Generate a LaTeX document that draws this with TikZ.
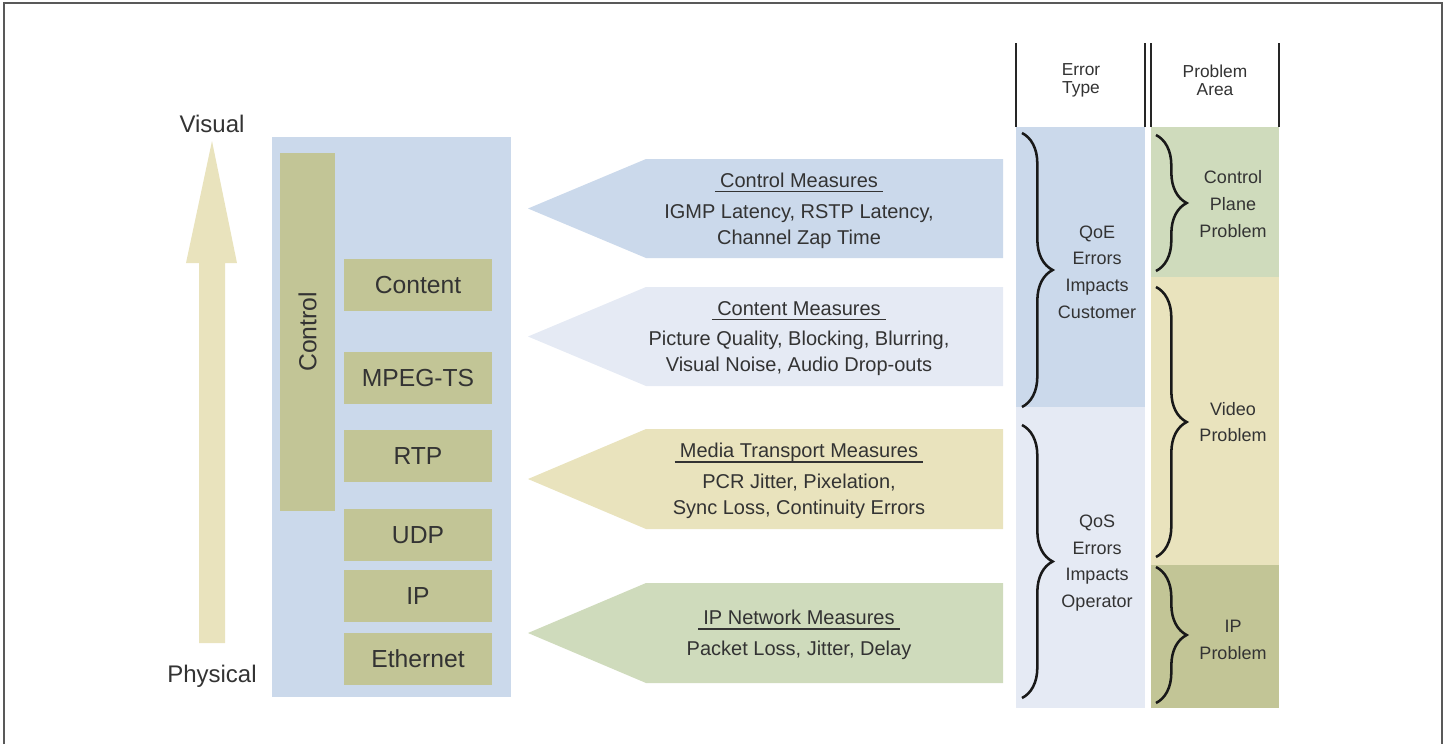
\documentclass[tikz,border=0pt]{standalone}
\usepackage{fontspec}
\setsansfont{Liberation Sans}
\usetikzlibrary{decorations.pathreplacing}

\definecolor{ink}{HTML}{333333}
\definecolor{stackblue}{HTML}{CBD9EB}
\definecolor{paleblue}{HTML}{E5EAF4}
\definecolor{layerolive}{HTML}{C2C596}
\definecolor{straw}{HTML}{E9E3BD}
\definecolor{sage}{HTML}{CFDBBC}

% heading of a measures arrow, ruled a little past both ends
\newsavebox\measurebox
\newcommand\measurehead[1]{\sbox\measurebox{\kern4pt#1\kern4pt}%
  \rlap{\rule[-3.5pt]{\wd\measurebox}{0.9pt}}\usebox\measurebox}

\begin{document}
\begin{tikzpicture}[
  x=0.75pt, y=-0.75pt,
  every node/.append style={font=\sffamily, text=ink},
  frame/.style={draw=black!65, line width=1.4pt},
  layerbox/.style={fill=layerolive, inner sep=0pt, minimum width=111pt,
    minimum height=39pt, font=\sffamily\fontsize{18.5}{22}\selectfont},
  scalelabel/.style={font=\sffamily\fontsize{18}{22}\selectfont},
  measure/.style={align=center, font=\sffamily\fontsize{15}{19.5}\selectfont},
  colhead/.style={align=center, font=\sffamily\fontsize{13}{13.5}\selectfont},
  rule/.style={draw=black!85, line width=1.3pt},
  verdict/.style={align=center, font=\sffamily\fontsize{13.5}{20}\selectfont},
  bracebar/.style={draw=black!90, line width=1.9pt, decorate,
    decoration={brace, amplitude=23pt, aspect=0.5}},
]
\useasboundingbox (0,0) rectangle (1447,744);

\draw[frame] (4,744) -- (4,3) -- (1442,3) -- (1442,744);

% ------------------------------------------------------ the scale arrow
\fill[straw] (199,643) -- (199,263) -- (186,263) -- (212,141)
  -- (237,263) -- (225,263) -- (225,643) -- cycle;
\node[scalelabel] (visual) at (212,124) {Visual};
\node[scalelabel] (physical) at (212,676) {Physical};

% ------------------------------------------------------ protocol stack
\fill[stackblue] (272,137) rectangle (511,697);
\node[layerbox, rotate=90, minimum width=268.5pt, minimum height=41.25pt]
  (control) at (307.5,332) {Control};
\foreach \y/\n/\txt in {284.5/content/Content, 378/mpegts/MPEG-TS,
    456/rtp/RTP, 535/udp/UDP, 596/ip/IP, 659/ethernet/Ethernet}
  \node[layerbox] (\n) at (418,\y) {\txt};

% ------------------------------------------------------ the measures
% Each arrow is a flat body with its point towards the stack.
\foreach \ya/\yb/\col/\n/\txt in {
    159/258/stackblue/ctrlmeasures/{\measurehead{Control Measures}\\[3.5pt]
      IGMP Latency, RSTP Latency,\\Channel Zap Time},
    287/386/paleblue/contentmeasures/{\measurehead{Content Measures}\\[3.5pt]
      Picture Quality, Blocking, Blurring,\\Visual Noise, Audio Drop-outs},
    429/529/straw/transportmeasures/{\measurehead{Media Transport Measures}\\[3.5pt]
      PCR Jitter, Pixelation,\\Sync Loss, Continuity Errors},
    583/683/sage/ipmeasures/{\measurehead{IP Network Measures}\\[3.5pt]
      Packet Loss, Jitter, Delay}}{
  \fill[\col] (1003,\ya) -- (646,\ya) -- (528,{(\ya+\yb)/2})
    -- (646,\yb) -- (1003,\yb) -- cycle;
  \node[measure] (\n) at (799,{(\ya+\yb)/2+2}) {\txt};
}

% ------------------------------------------------------ the two columns
\fill[stackblue] (1016,127) rectangle (1145,407);
\fill[paleblue] (1016,407) rectangle (1145,708);
\fill[sage] (1151,127) rectangle (1279,277);
\fill[straw] (1151,277) rectangle (1279,565);
\fill[layerolive] (1151,565) rectangle (1279,708);

\foreach \x in {1016,1145,1151,1279}
  \draw[rule] (\x,43) -- (\x,127);
\node[colhead] (errortype) at (1081,80) {Error\\Type};
\node[colhead] (problemarea) at (1215,80) {Problem\\Area};

% error type
\draw[bracebar] (1022,133) -- (1022,407);
\draw[bracebar] (1022,425) -- (1022,698);
\node[verdict] (qoe) at (1097,272) {QoE\\Errors\\Impacts\\Customer};
\node[verdict] (qos) at (1097,563) {QoS\\Errors\\Impacts\\Operator};

% problem area
\draw[bracebar] (1156,135) -- (1156,271);
\draw[bracebar] (1156,287) -- (1156,557);
\draw[bracebar] (1156,567) -- (1156,703);
\node[verdict] (ctrlplane) at (1233,204) {Control\\Plane\\Problem};
\node[verdict] (videoprob) at (1233,422) {Video\\Problem};
\node[verdict] (ipprob) at (1233,640) {IP\\Problem};

\end{tikzpicture}
\end{document}
